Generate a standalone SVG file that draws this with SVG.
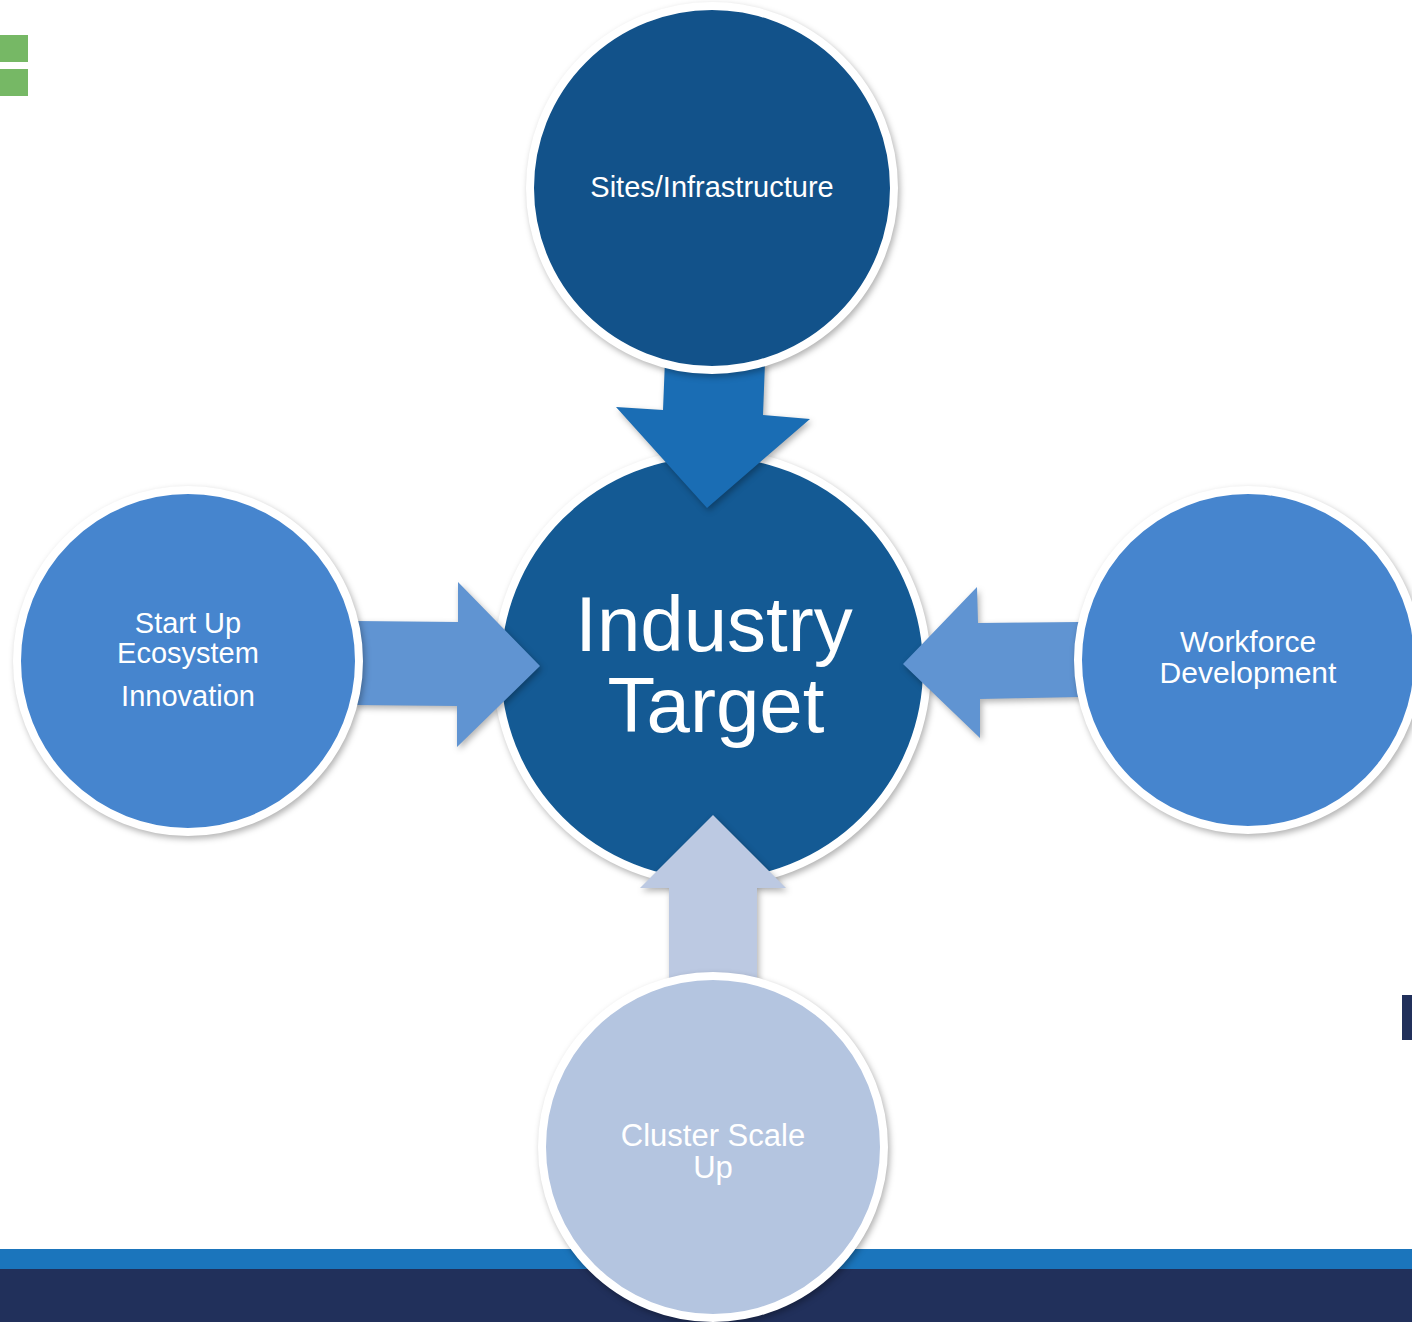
<svg xmlns="http://www.w3.org/2000/svg" width="1412" height="1322" viewBox="0 0 1412 1322">
<defs>
<filter id="sh" x="-20%" y="-20%" width="140%" height="140%" color-interpolation-filters="sRGB">
<feDropShadow dx="2" dy="3" stdDeviation="3" flood-color="#000" flood-opacity="0.3"/>
</filter>
<style>
.ring{stroke:#fff;stroke-width:8;filter:url(#sh)}
.lbl{font-family:"Liberation Sans",Arial,sans-serif;fill:#fff;text-anchor:middle}
.arr{filter:url(#sh)}
</style>
</defs>
<rect width="1412" height="1322" fill="#fff"/>
<g id="background">
<rect x="0" y="1249" width="1412" height="20" fill="#1b75bc"/>
<rect x="0" y="1269" width="1412" height="53" fill="#21305b"/>
<rect x="0" y="35" width="28" height="27" fill="#76b865"/>
<rect x="0" y="69" width="28" height="27" fill="#76b865"/>
<rect x="1402" y="995" width="10" height="45" fill="#21305b"/>
</g>
<g id="node-center">
<circle class="ring" cx="712" cy="668" r="215" fill="#145a94"/>
</g>
<g id="connectors">
<polygon class="arr" points="665,360 765,362 763,415 810,419 707,508 616,407 663,410" fill="#1a6db4"/>
<polygon class="arr" points="355,621 458,622 458,582 540,666 457,747 457,706 355,705" fill="#6094d2"/>
<polygon class="arr" points="1080,622 978,623 977,587 903,664 980,738 980,699 1080,697" fill="#6094d2"/>
<polygon class="arr" points="669,985 669,888 640,888 713,815 786,888 757,888 757,985" fill="#bcc9e2"/>
</g>
<g id="node-center-label">
<text class="lbl" x="714" y="651" font-size="78">Industry</text>
<text class="lbl" x="716" y="732" font-size="78">Target</text>
</g>
<g id="node-sites">
<circle class="ring" cx="712" cy="188" r="182" fill="#12528a"/>
<text class="lbl" x="712" y="197" font-size="29">Sites/Infrastructure</text>
</g>
<g id="node-startup">
<circle class="ring" cx="188" cy="661" r="171" fill="#4685ce"/>
<text class="lbl" x="188" y="633" font-size="29">Start Up</text>
<text class="lbl" x="188" y="663" font-size="29">Ecosystem</text>
<text class="lbl" x="188" y="706" font-size="29">Innovation</text>
</g>
<g id="node-workforce">
<circle class="ring" cx="1248" cy="660" r="170" fill="#4685ce"/>
<text class="lbl" x="1248" y="652" font-size="30">Workforce</text>
<text class="lbl" x="1248" y="683" font-size="30">Development</text>
</g>
<g id="node-cluster">
<circle class="ring" cx="713" cy="1147" r="171" fill="#b4c5e0"/>
<text class="lbl" x="713" y="1146" font-size="31">Cluster Scale</text>
<text class="lbl" x="713" y="1178" font-size="31">Up</text>
</g>
</svg>
